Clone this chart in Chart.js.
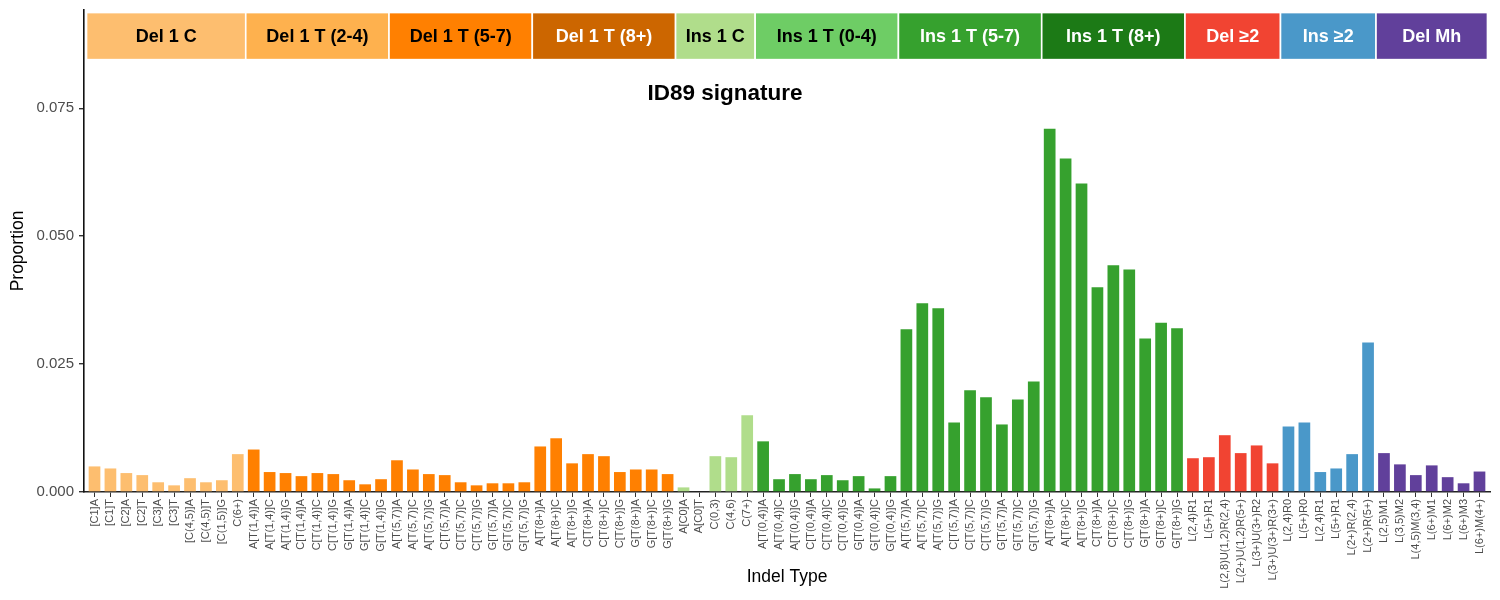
<!DOCTYPE html>
<html>
<head>
<meta charset="utf-8">
<script src="https://cdn.jsdelivr.net/npm/chart.js@4/dist/chart.umd.min.js"></script>
<style>
  html, body { margin: 0; padding: 0; background: #ffffff; }
  #wrap { width: 1500px; height: 600px; position: relative; }
</style>
</head>
<body>
<div id="wrap"><canvas id="c" width="1500" height="600"></canvas></div>
<script>
// ---- data ----
const categories = [
  "[C1]A","[C1]T","[C2]A","[C2]T","[C3]A","[C3]T","[C(4,5)]A","[C(4,5)]T","[C(1,5)]G","C(6+)",
  "A[T(1,4)]A","A[T(1,4)]C","A[T(1,4)]G","C[T(1,4)]A","C[T(1,4)]C","C[T(1,4)]G","G[T(1,4)]A","G[T(1,4)]C","G[T(1,4)]G",
  "A[T(5,7)]A","A[T(5,7)]C","A[T(5,7)]G","C[T(5,7)]A","C[T(5,7)]C","C[T(5,7)]G","G[T(5,7)]A","G[T(5,7)]C","G[T(5,7)]G",
  "A[T(8+)]A","A[T(8+)]C","A[T(8+)]G","C[T(8+)]A","C[T(8+)]C","C[T(8+)]G","G[T(8+)]A","G[T(8+)]C","G[T(8+)]G",
  "A[C0]A","A[C0]T","C(0,3)","C(4,6)","C(7+)",
  "A[T(0,4)]A","A[T(0,4)]C","A[T(0,4)]G","C[T(0,4)]A","C[T(0,4)]C","C[T(0,4)]G","G[T(0,4)]A","G[T(0,4)]C","G[T(0,4)]G",
  "A[T(5,7)]A","A[T(5,7)]C","A[T(5,7)]G","C[T(5,7)]A","C[T(5,7)]C","C[T(5,7)]G","G[T(5,7)]A","G[T(5,7)]C","G[T(5,7)]G",
  "A[T(8+)]A","A[T(8+)]C","A[T(8+)]G","C[T(8+)]A","C[T(8+)]C","C[T(8+)]G","G[T(8+)]A","G[T(8+)]C","G[T(8+)]G",
  "L(2,4)R1","L(5+)R1","L(2,8)U(1,2)R(2,4)","L(2+)U(1,2)R(5+)","L(3+)U(3+)R2","L(3+)U(3+)R(3+)",
  "L(2,4)R0","L(5+)R0","L(2,4)R1","L(5+)R1","L(2+)R(2,4)","L(2+)R(5+)",
  "L(2,5)M1","L(3,5)M2","L(4,5)M(3,4)","L(6+)M1","L(6+)M2","L(6+)M3","L(6+)M(4+)"
];
const proportions = [
  0.0050, 0.0046, 0.0037, 0.0033, 0.0019, 0.0013, 0.0027, 0.0019, 0.0023, 0.0074,
  0.0083, 0.0039, 0.0037, 0.0031, 0.0037, 0.0035, 0.0023, 0.0015, 0.0025,
  0.0062, 0.0044, 0.0035, 0.0033, 0.0019, 0.0013, 0.0017, 0.0017, 0.0019,
  0.0089, 0.0105, 0.0056, 0.0074, 0.0070, 0.0039, 0.0044, 0.0044, 0.0035,
  0.0009, 0.0000, 0.0070, 0.0068, 0.0150,
  0.0099, 0.0025, 0.0035, 0.0025, 0.0033, 0.0023, 0.0031, 0.0007, 0.0031,
  0.0318, 0.0369, 0.0359, 0.0136, 0.0199, 0.0185, 0.0132, 0.0181, 0.0216,
  0.0710, 0.0652, 0.0603, 0.0400, 0.0443, 0.0435, 0.0300, 0.0331, 0.0320,
  0.0066, 0.0068, 0.0111, 0.0076, 0.0091, 0.0056,
  0.0128, 0.0136, 0.0039, 0.0046, 0.0074, 0.0292,
  0.0076, 0.0054, 0.0033, 0.0052, 0.0029, 0.0017, 0.0040
];
const groupNames = ["Del 1 C","Del 1 T (2-4)","Del 1 T (5-7)","Del 1 T (8+)","Ins 1 C","Ins 1 T (0-4)","Ins 1 T (5-7)","Ins 1 T (8+)","Del \u22652","Ins \u22652","Del Mh"];
const groupSizes = [10, 9, 9, 9, 5, 9, 9, 9, 6, 6, 7];
const yTicks = [0, 0.025, 0.05, 0.075];
const chartTitle = "ID89 signature";
const xTitle = "Indel Type";
const yTitle = "Proportion";

// ---- styles ----
const headerFill = ["#FDBE6F","#FEB14E","#FF8001","#CC6600","#B0DD8B","#6ECD65","#36A12E","#1C7A16","#F14432","#4A98C9","#61409B"];
const headerText = ["#000000","#000000","#000000","#FFFFFF","#000000","#000000","#FFFFFF","#FFFFFF","#FFFFFF","#FFFFFF","#FFFFFF"];
const barFill   = ["#FDBE6F","#FF8001","#FF8001","#FF8001","#B0DD8B","#36A12E","#36A12E","#36A12E","#F14432","#4A98C9","#61409B"];
const FONT = "'Liberation Sans', Arial, sans-serif";

// group index of each bar
const groupOfBar = [];
groupSizes.forEach((n, g) => { for (let k = 0; k < n; k++) groupOfBar.push(g); });
const barColors = groupOfBar.map(g => barFill[g]);
const points = proportions.map((v, i) => ({ x: i + 1, y: v }));

const headerPlugin = {
  id: 'headers',
  afterDatasetsDraw(chart) {
    const { ctx, scales: { x, y } } = chart;
    ctx.save();
    let start = 1;
    const yTop = y.getPixelForValue(0.0937), yBot = y.getPixelForValue(0.0845);
    groupSizes.forEach((n, g) => {
      const x0 = x.getPixelForValue(start - 0.5);
      const x1 = x.getPixelForValue(start + n - 0.5);
      ctx.fillStyle = headerFill[g];
      ctx.fillRect(x0, yTop, x1 - x0, yBot - yTop);
      ctx.strokeStyle = '#FFFFFF';
      ctx.lineWidth = 1.6;
      ctx.strokeRect(x0, yTop, x1 - x0, yBot - yTop);
      ctx.fillStyle = headerText[g];
      ctx.font = "bold 18px " + FONT;
      ctx.textAlign = 'center';
      ctx.textBaseline = 'middle';
      ctx.fillText(groupNames[g], (x0 + x1) / 2, (yTop + yBot) / 2 + 1);
      start += n;
    });
    // title
    ctx.fillStyle = '#000000';
    ctx.font = "bold 22.5px " + FONT;
    ctx.textAlign = 'center';
    ctx.textBaseline = 'middle';
    ctx.fillText(chartTitle, x.getPixelForValue(40.6), y.getPixelForValue(0.0778));
    ctx.restore();
  }
};

new Chart(document.getElementById('c'), {
  type: 'bar',
  data: {
    datasets: [{
      data: points,
      backgroundColor: barColors,
      borderWidth: 0,
      categoryPercentage: 1.0,
      barPercentage: 0.735
    }]
  },
  options: {
    responsive: false,
    animation: false,
    layout: { padding: { top: 10, right: 10, left: 0, bottom: 0 } },
    plugins: { legend: { display: false }, tooltip: { enabled: false } },
    scales: {
      x: {
        type: 'linear',
        offset: false,
        min: 0.34,
        max: 88.66,
        afterFit(s) { s.height = 108; s.paddingLeft = 0; s.paddingRight = 0; },
        grid: { offset: false, drawOnChartArea: false, drawTicks: true, tickLength: 5, color: '#333333', lineWidth: 1 },
        border: { display: true, color: '#222222', width: 1.6 },
        ticks: {
          stepSize: 1,
          includeBounds: false,
          autoSkip: false,
          maxRotation: 90,
          minRotation: 90,
          padding: 2,
          color: '#4D4D4D',
          font: { family: FONT, size: 11 },
          callback: (v) => categories[Math.round(v) - 1] ?? ''
        },
        title: {
          display: true,
          text: xTitle,
          color: '#000000',
          font: { family: FONT, size: 17.5 },
          padding: { top: 0, bottom: 12 }
        }
      },
      y: {
        min: 0,
        max: 0.0942,
        afterFit(s) { s.width = 84; s.paddingTop = 0; s.paddingBottom = 0; },
        afterBuildTicks(s) { s.ticks = yTicks.map(v => ({ value: v })); },
        grid: { drawOnChartArea: false, drawTicks: true, tickLength: 5, color: '#333333', lineWidth: 1.4 },
        border: { display: true, color: '#111111', width: 1.6 },
        ticks: {
          padding: 5,
          color: '#4D4D4D',
          font: { family: FONT, size: 15 },
          callback: (v) => Number(v).toFixed(3)
        },
        title: {
          display: true,
          text: yTitle,
          color: '#000000',
          font: { family: FONT, size: 17.5 },
          padding: { top: 8, bottom: 0 }
        }
      }
    }
  },
  plugins: [headerPlugin]
});
</script>
</body>
</html>
